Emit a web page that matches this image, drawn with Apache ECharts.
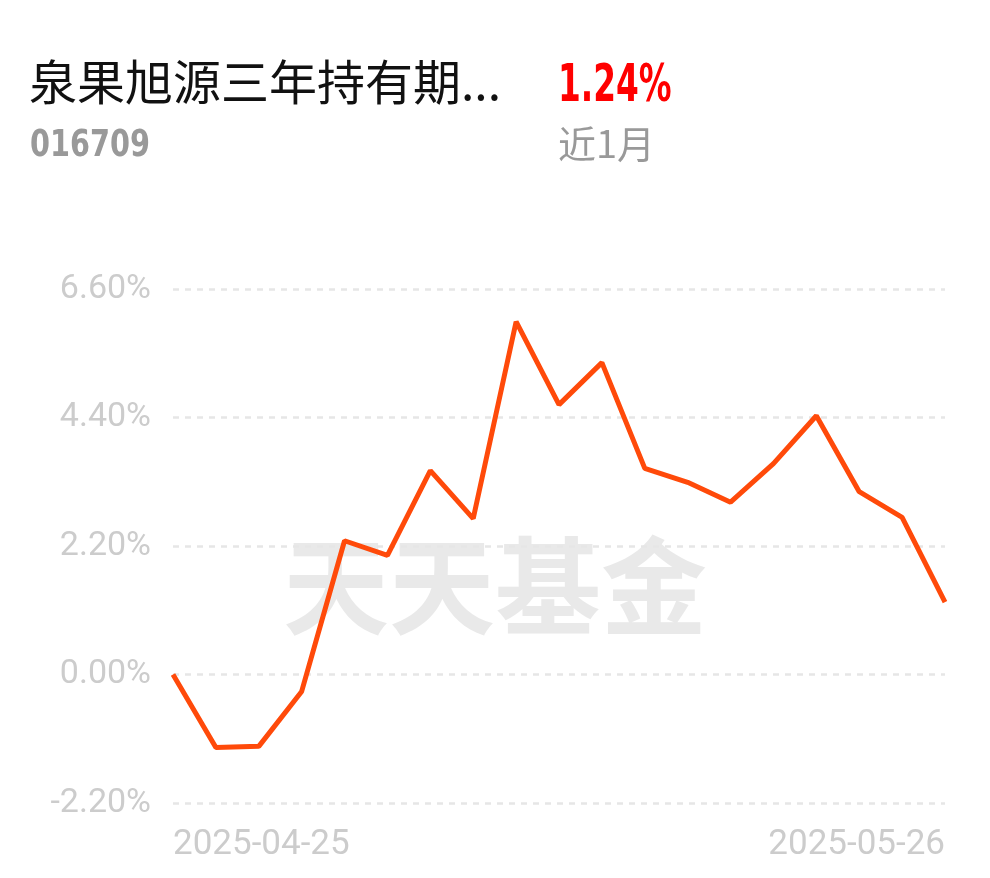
<!DOCTYPE html>
<html><head><meta charset="utf-8">
<script src="https://cdn.jsdelivr.net/npm/echarts@6/dist/echarts.min.js"></script>
<style>html,body{margin:0;padding:0;background:#fff;}#c{width:990px;height:878px;}</style>
</head><body><div id="c"></div>
<script>
const dates = ['2025-04-25','2025-04-28','2025-04-29','2025-04-30','2025-05-06','2025-05-07','2025-05-08','2025-05-09','2025-05-12','2025-05-13','2025-05-14','2025-05-15','2025-05-16','2025-05-19','2025-05-20','2025-05-21','2025-05-22','2025-05-23','2025-05-26'];
const returns = [0.00,-1.25,-1.23,-0.29,2.29,2.04,3.49,2.67,6.04,4.62,5.34,3.53,3.29,2.95,3.61,4.43,3.13,2.69,1.24];
const yTicks = [-2.2, 0, 2.2, 4.4, 6.6];
const fundName = '泉果旭源三年持有期...';
const fundCode = '016709';
const periodReturn = '1.24%';
const periodLabel = '近1月';
const watermark = '天天基金';

const chart = echarts.init(document.getElementById('c'));
const cjk = '"Noto Sans CJK SC", "Noto Sans", sans-serif';
const num = 'Roboto, "DejaVu Sans", sans-serif';
chart.setOption({
  animation: false,
  backgroundColor: '#fff',
  graphic: [
    {type:'text', x:29, y:58, style:{text:fundName, font:'48px '+cjk, fill:'#111'}},
    {type:'text', x:558, y:61, scaleX:0.7, style:{text:periodReturn, font:'bold 52px "DejaVu Sans Condensed", Roboto, sans-serif', fill:'#f00'}},
    {type:'text', x:30, y:127, scaleX:0.84, style:{text:fundCode, font:'bold 38px "DejaVu Sans Condensed", sans-serif', fill:'#999'}},
    {type:'text', x:558, y:125, style:{text:periodLabel, font:'38px '+cjk, fill:'#999'}},
    {type:'text', left:'center', top:533, z:-1, style:{text:watermark, font:'bold 106px '+cjk, fill:'#e9e9e9'}}
  ],
  grid: {left:173, right:45, top:289, bottom:75, containLabel:false},
  xAxis: {
    type:'category', data:dates, boundaryGap:false,
    axisLine:{show:false}, axisTick:{show:false},
    axisLabel:{
      color:'#ccc', fontSize:35, fontFamily:num, margin:25,
      interval:(i)=> i===0 || i===dates.length-1,
      alignMinLabel:'left', alignMaxLabel:'right'
    },
    splitLine:{show:false}
  },
  yAxis: {
    type:'value', min:yTicks[0], max:yTicks[yTicks.length-1], interval:2.2,
    axisLine:{show:false}, axisTick:{show:false},
    axisLabel:{color:'#ccc', fontSize:34, fontFamily:num, margin:22,
      formatter:(v)=> v.toFixed(2)+'%'},
    splitLine:{lineStyle:{color:'#e6e6e6', type:[6,6], width:2.5}}
  },
  series: [{
    type:'line', data:returns, symbol:'none', smooth:false,
    lineStyle:{color:'#ff4a0a', width:5}
  }]
});
</script></body></html>
